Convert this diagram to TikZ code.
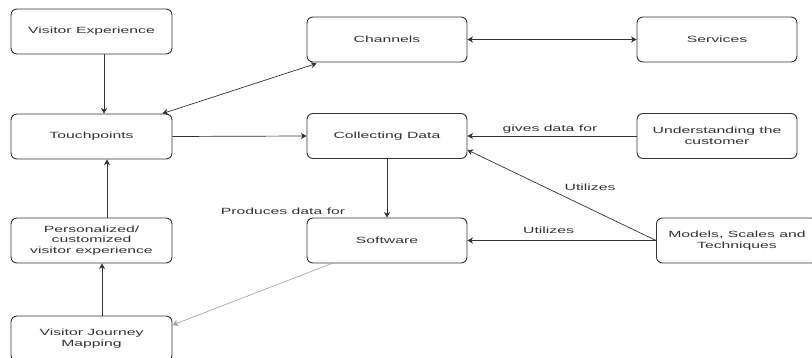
\documentclass[tikz,border=0pt]{standalone}
\usepackage{fontspec}
\newfontfamily\dfont[FakeStretch=1.75]{Liberation Sans}
\usetikzlibrary{arrows.meta}
\definecolor{ink}{HTML}{333333}
\tikzset{
  box/.style={draw=ink, line width=0.9pt, rounded corners=6pt, minimum width=161pt, minimum height=45pt,
    inner sep=0pt, align=center, text=ink, font=\dfont\fontsize{9}{10.7}\selectfont},
  conn/.style={draw=ink, line width=0.7pt, -{Stealth[length=5.5pt,width=6pt,inset=1.5pt]}},
  dconn/.style={draw=ink, line width=0.7pt, {Stealth[length=5.5pt,width=6pt,inset=1.5pt]}-{Stealth[length=5.5pt,width=6pt,inset=1.5pt]}},
  lbl/.style={text=ink, inner sep=1pt, font=\dfont\fontsize{9}{10.7}\selectfont}
}
\begin{document}
\begin{tikzpicture}[x=1pt,y=1pt]
\useasboundingbox (0,0) rectangle (812,-358);
\clip (0,0) rectangle (812,-358);
\fill[white] (0,0) rectangle (812,-358);
\node[box] (VE)  at (91.5,-31.5)  {Visitor Experience};
\node[box] (TP)  at (91.5,-136.5) {Touchpoints};
\node[box] (PE)  at (91.5,-240.5) {Personalized/\\customized\\visitor experience};
\node[box] (VJM) at (91.5,-338.5) {Visitor Journey\\Mapping};
\node[box, minimum width=160pt] (CH) at (387,-39.5)  {Channels};
\node[box, minimum width=160pt] (SV) at (717,-39.5)  {Services};
\node[box, minimum width=160pt] (CD) at (387,-136)   {Collecting Data};
\node[box, minimum width=160pt] (UC) at (717,-136)   {Understanding the\\customer};
\node[box, minimum width=160pt] (SW) at (387,-240.5) {Software};
\node[box] (MS) at (737,-240.5) {Models, Scales and\\Techniques};

\draw[conn] ([xshift=12.5pt]VE.south) -- ([xshift=12.5pt]TP.north);
\draw[dconn] ([xshift=-10pt]TP.north east) -- ([xshift=10pt,yshift=-1pt]CH.south west);
\draw[conn] (TP.east) -- (CD.west);
\draw[dconn] (CH.east) -- (SV.west);
\draw[conn] (UC.west) -- node[lbl, above=1pt, xshift=-2pt] {gives data for} (CD.east);
\draw[conn] (CD.south) -- (SW.north);
\node[lbl] (PD) at ([shift={(-104,6)}]SW.north) {Produces data for};
\draw[conn] (MS.west) -- node[lbl, pos=0.35, yshift=22pt] {Utilizes} ([yshift=9pt]CD.south east);
\draw[conn] (MS.west) -- node[lbl, pos=0.57, yshift=10pt] {Utilizes} (SW.east);
\draw[conn, draw=gray!75, line width=0.6pt] ([xshift=-55pt]SW.south) -- ([yshift=13.5pt]VJM.east);
\draw[conn] ([xshift=10.5pt]VJM.north) -- ([xshift=10.5pt]PE.south);
\draw[conn] ([xshift=15.5pt]PE.north) -- ([xshift=15.5pt]TP.south);
\end{tikzpicture}
\end{document}
